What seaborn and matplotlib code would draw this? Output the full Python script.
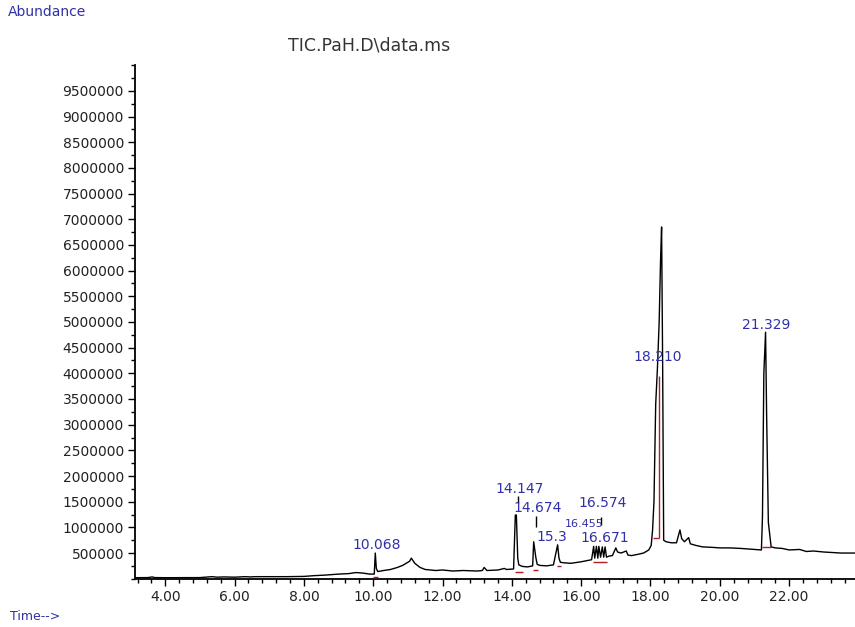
import pandas as pd
import seaborn as sns
import matplotlib.pyplot as plt
from matplotlib.ticker import MultipleLocator, FixedLocator, FuncFormatter

# chromatogram trace (minutes, abundance)
time = [3.13, 3.5, 3.62, 3.7, 4.0, 4.6, 5.0, 5.35, 5.5, 5.7, 6.0, 6.3, 6.45, 6.6,
        7.0, 7.5, 8.0, 8.3, 8.6, 9.0, 9.3, 9.5, 9.7, 9.9, 10.03, 10.06, 10.09, 10.13,
        10.3, 10.5, 10.7, 10.85, 10.95, 11.05, 11.1, 11.2, 11.35, 11.5, 11.8, 12.0,
        12.3, 12.6, 13.0, 13.15, 13.2, 13.28, 13.6, 13.78, 13.85, 14.05, 14.1, 14.13,
        14.17, 14.2, 14.3, 14.45, 14.6, 14.63, 14.69, 14.73, 14.8, 15.0, 15.2, 15.32,
        15.36, 15.4, 15.5, 15.7, 16.0, 16.3, 16.36, 16.39, 16.44, 16.48, 16.51, 16.56,
        16.61, 16.65, 16.69, 16.73, 16.8, 16.9, 17.0, 17.05, 17.15, 17.3, 17.35, 17.45,
        17.6, 17.8, 17.95, 18.02, 18.06, 18.1, 18.15, 18.2, 18.25, 18.29, 18.32, 18.35,
        18.38, 18.45, 18.6, 18.75, 18.85, 18.9, 18.98, 19.1, 19.15, 19.3, 19.5, 19.8,
        20.0, 20.3, 20.6, 21.0, 21.2, 21.23, 21.27, 21.32, 21.35, 21.4, 21.48, 21.6,
        21.8, 22.0, 22.3, 22.5, 22.7, 23.0, 23.5, 23.9]
abundance = [20000, 22000, 35000, 22000, 20000, 20000, 22000, 40000, 30000, 35000,
             30000, 40000, 35000, 40000, 40000, 40000, 45000, 60000, 70000, 90000,
             100000, 120000, 110000, 90000, 90000, 500000, 200000, 140000, 160000,
             180000, 220000, 260000, 300000, 340000, 400000, 300000, 220000, 180000,
             160000, 170000, 150000, 160000, 150000, 160000, 220000, 160000, 170000,
             200000, 180000, 190000, 1240000, 1240000, 400000, 270000, 240000, 230000,
             250000, 720000, 420000, 280000, 260000, 250000, 270000, 660000, 400000,
             320000, 310000, 300000, 330000, 370000, 630000, 400000, 630000, 400000,
             630000, 420000, 620000, 420000, 620000, 420000, 440000, 450000, 600000,
             520000, 500000, 540000, 460000, 450000, 470000, 500000, 560000, 650000,
             950000, 1500000, 3400000, 4100000, 5000000, 6200000, 6850000, 4200000,
             750000, 720000, 700000, 700000, 950000, 780000, 720000, 800000, 680000,
             650000, 620000, 610000, 600000, 600000, 590000, 570000, 560000, 1200000,
             4000000, 4800000, 3200000, 1100000, 620000, 600000, 590000, 560000,
             570000, 530000, 540000, 520000, 500000, 500000]

# labelled peaks
peak_text = ["10.068", "14.147", "14.674", "15.3", "16.455", "16.671", "16.574", "18.210", "21.329"]
label_t = [10.11, 14.21, 14.73, 15.16, 16.08, 16.69, 16.62, 18.22, 21.33]
label_v = [660000, 1745000, 1370000, 820000, 1060000, 790000, 1470000, 4320000, 4950000]
label_size = [10, 10, 10, 10, 8, 10, 10, 10, 10]

# leader lines under some labels
lead_t = [14.17, 14.69, 16.57]
lead_top = [1620000, 1220000, 1200000]
lead_bot = [1480000, 1000000, 1040000]

# integration baselines (red)
base_t0 = [10.0, 14.09, 14.61, 15.29, 16.34, 18.08, 21.22]
base_t1 = [10.15, 14.32, 14.75, 15.43, 16.75, 18.24, 21.49]
base_v = [40000, 130000, 170000, 250000, 330000, 790000, 620000]

sns.set_theme(style="ticks")
plt.rcParams['font.family'] = ['DejaVu Sans']

df = pd.DataFrame({"time": time, "abundance": abundance})

fig = plt.figure(figsize=(8.55, 6.27), dpi=100)
ax = fig.add_axes([0.158, 0.077, 0.842, 0.819])

sns.lineplot(data=df, x="time", y="abundance", ax=ax, color="black",
             linewidth=1.0, estimator=None, sort=False)

red = "#b02020"
ax.hlines(base_v, base_t0, base_t1, color=red, linewidth=1.0, zorder=3)
ax.vlines([18.24], [790000], [3940000], color=red, linewidth=1.0, zorder=3)
ax.vlines(lead_t, lead_bot, lead_top, color="black", linewidth=1.0)

blue = "#3030a8"
for txt, lt, lv, fs in zip(peak_text, label_t, label_v, label_size):
    ax.text(lt, lv, txt, color=blue, fontsize=fs, ha="center", va="center", zorder=5)

ax.set_xlim(3.13, 23.9)
ax.set_ylim(0, 10000000)
ax.set_xlabel("")
ax.set_ylabel("")

ax.xaxis.set_major_locator(MultipleLocator(2))
ax.xaxis.set_minor_locator(MultipleLocator(0.4))
ax.xaxis.set_major_formatter(FuncFormatter(lambda v, p: f"{v:.2f}"))
ax.yaxis.set_major_locator(FixedLocator(list(range(500000, 10000000, 500000))))
ax.yaxis.set_minor_locator(MultipleLocator(250000))
ax.yaxis.set_major_formatter(FuncFormatter(lambda v, p: f"{int(v)}"))

ax.tick_params(axis="both", which="major", direction="out", length=5, width=1,
               labelsize=10, labelcolor="#222222", color="black", pad=3)
ax.tick_params(axis="both", which="minor", direction="out", length=3, width=1, color="black")

sns.despine(ax=ax)
for s in ["left", "bottom"]:
    ax.spines[s].set_linewidth(1.3)
    ax.spines[s].set_color("black")

fig.text(369 / 855, 1 - 45 / 627, "TIC.PaH.D\\data.ms", fontsize=12.5, color="#333333",
         ha="center", va="center")
fig.text(8 / 855, 1 - 12 / 627, "Abundance", fontsize=10, color=blue, ha="left", va="center")
fig.text(10 / 855, 1 - 617 / 627, "Time-->", fontsize=9, color=blue, ha="left", va="center")

fig.savefig("out.png", dpi=100)
